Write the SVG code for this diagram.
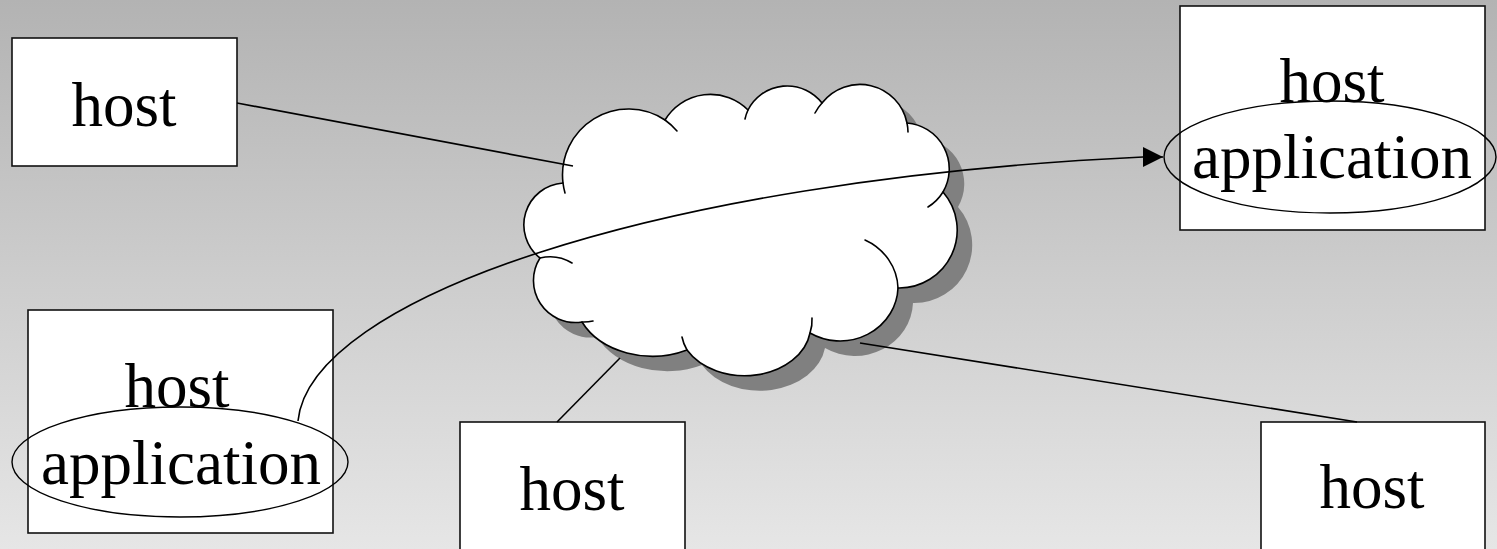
<svg xmlns="http://www.w3.org/2000/svg" xmlns:xlink="http://www.w3.org/1999/xlink" width="1497" height="549" viewBox="0 0 1497 549">
  <style>
    .box { fill: #ffffff; stroke: #111111; stroke-width: 1.6; }
    .label { font-family: "Liberation Serif", "Times New Roman", serif; font-size: 63px; fill: #000000; text-anchor: middle; }
    .app { fill: none; stroke: #000000; stroke-width: 1.4; }
    .link { fill: none; stroke: #000000; stroke-width: 1.6; }
    .cloud { fill: #ffffff; stroke: #000000; stroke-width: 1.6; stroke-linejoin: round; }
    .cloud-shadow { fill: #808080; stroke: none; }
    .puff { fill: none; stroke: #000000; stroke-width: 1.6; stroke-linecap: round; }
  </style>
  <defs>
    <linearGradient id="bg" x1="0" y1="0" x2="0" y2="1">
      <stop offset="0" stop-color="#b3b3b3"/>
      <stop offset="1" stop-color="#e6e6e6"/>
    </linearGradient>
    <marker id="arrow" markerUnits="userSpaceOnUse" markerWidth="20" markerHeight="20" refX="20" refY="10" orient="auto">
      <path d="M0,0 L20,10 L0,20 Z" fill="#000000"/>
    </marker>
    <!-- cloud outline: eleven puffs, clockwise from the left -->
    <path id="cloud-outline" d="M563,183
      A66 66 0 0 1 665,120
      A53 53 0 0 1 748,110
      A44 44 0 0 1 822,103
      A48 48 0 0 1 907,123
      A46 46 0 0 1 943,192
      A58 58 0 0 1 898,288
      A58 55 0 0 1 810,333
      A66 50 0 0 1 687,350
      A78 60 0 0 1 582,322
      A42 42 0 0 1 540,258
      A42 42 0 0 1 563,183 Z"/>
  </defs>

  <rect x="0" y="0" width="1497" height="549" fill="url(#bg)"/>

  <!-- network cloud -->
  <g id="cloud">
    <use xlink:href="#cloud-outline" class="cloud-shadow" transform="translate(15,15)"/>
    <use xlink:href="#cloud-outline" class="cloud"/>
    <path class="puff" d="M563,183 A66 66 0 0 0 565,193"/>
    <path class="puff" d="M665,120 A66 66 0 0 1 677,131"/>
    <path class="puff" d="M748,110 A44 44 0 0 0 745,119"/>
    <path class="puff" d="M822,103 A48 48 0 0 0 815,113"/>
    <path class="puff" d="M907,123 A48 48 0 0 1 908,132"/>
    <path class="puff" d="M943,192 A46 46 0 0 1 928,207"/>
    <path class="puff" d="M865,240 A58 55 0 0 1 898,288"/>
    <path class="puff" d="M810,333 A66 50 0 0 0 812,318"/>
    <path class="puff" d="M687,350 A66 50 0 0 1 682,337"/>
    <path class="puff" d="M582,322 A42 42 0 0 0 593,321"/>
    <path class="puff" d="M540,258 A42 42 0 0 1 572,263"/>
  </g>

  <!-- hosts -->
  <g id="host-top-left">
    <rect class="box" x="12" y="38" width="225" height="128"/>
    <text class="label" x="124" y="126">host</text>
  </g>

  <g id="host-top-right">
    <rect class="box" x="1180" y="6" width="305" height="224"/>
    <text class="label" x="1332" y="102">host</text>
    <text class="label" x="1332" y="178">application</text>
    <ellipse class="app" cx="1330" cy="157" rx="166" ry="56"/>
  </g>

  <g id="host-bottom-left">
    <rect class="box" x="28" y="310" width="305" height="223"/>
    <text class="label" x="177" y="407">host</text>
    <text class="label" x="181" y="484">application</text>
    <ellipse class="app" cx="180" cy="462" rx="168" ry="55"/>
  </g>

  <g id="host-bottom-middle">
    <rect class="box" x="460" y="422" width="225" height="140"/>
    <text class="label" x="572" y="510">host</text>
  </g>

  <g id="host-bottom-right">
    <rect class="box" x="1261" y="422" width="224" height="140"/>
    <text class="label" x="1372" y="508">host</text>
  </g>

  <!-- connectors -->
  <g id="connectors">
    <line class="link" x1="237" y1="103" x2="573" y2="166"/>
    <line class="link" x1="557" y1="422" x2="620" y2="358"/>
    <line class="link" x1="860" y1="343" x2="1357" y2="422"/>
    <path class="link" d="M298,421 C310,300 650,180 1143,157 L1163,157" marker-end="url(#arrow)"/>
  </g>
</svg>
